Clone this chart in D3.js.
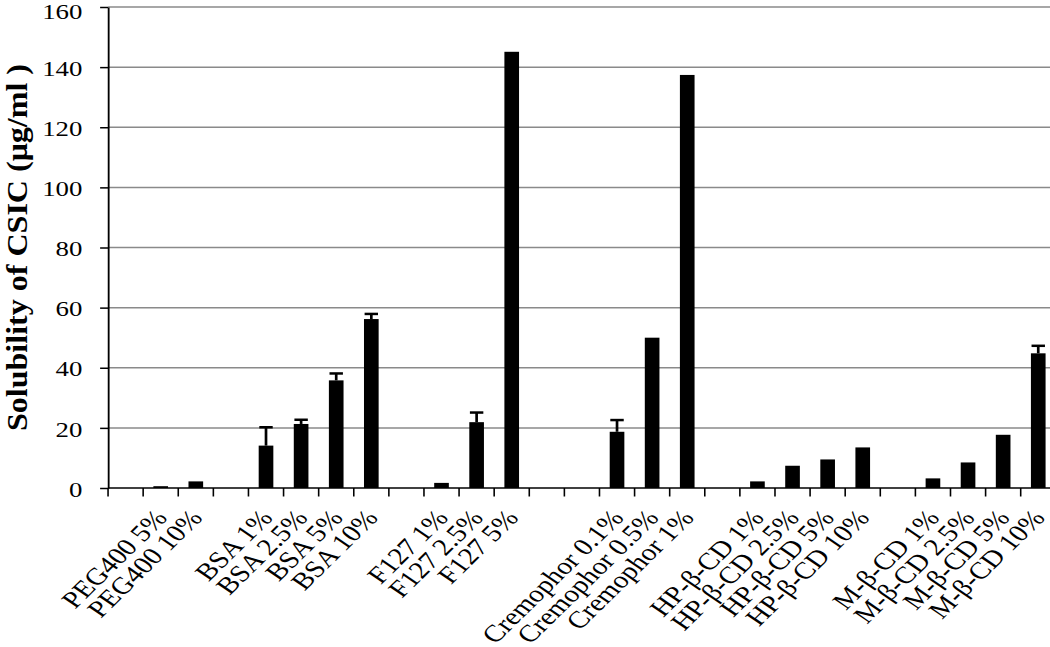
<!DOCTYPE html>
<html><head><meta charset="utf-8">
<script src="https://cdn.jsdelivr.net/npm/d3@7"></script>
<style>body{margin:0;background:#fff;overflow:hidden}svg{display:block}</style>
</head><body>
<script>
const categories = ["", "PEG400 5%", "PEG400 10%", "", "BSA 1%", "BSA 2.5%", "BSA 5%", "BSA 10%", "", "F127 1%", "F127 2.5%", "F127 5%", "", "", "Cremophor 0.1%", "Cremophor 0.5%", "Cremophor 1%", "", "HP-β-CD 1%", "HP-β-CD 2.5%", "HP-β-CD 5%", "HP-β-CD 10%", "", "M-β-CD 1%", "M-β-CD 2.5%", "M-β-CD 5%", "M-β-CD 10%"];
const values = [null, 0.6, 2.2, null, 14.1, 21.3, 35.8, 56.2, null, 1.7, 21.9, 145.1, null, null, 18.7, 50.0, 137.4, null, 2.2, 7.4, 9.5, 13.5, null, 3.2, 8.5, 17.7, 44.8];
const errors = [null, 0, 0, null, 6.1, 1.4, 2.3, 1.7, null, 0, 3.2, 0, null, null, 3.9, 0, 0, null, 0, 0, 0, 0, null, 0, 0, 0, 2.5];
const yTicks = [0, 20, 40, 60, 80, 100, 120, 140, 160];
const yTitle = "Solubility of CSIC (μg/ml )";

const W = 1050, H = 647, VBW = 860;
const mLeft = 88.5, mTop = 7, mBottom = 488, band = 28.75;

const svg = d3.select("body").append("svg")
  .attr("width", W).attr("height", H)
  .attr("viewBox", `0 0 ${VBW} ${H}`)
  .attr("preserveAspectRatio", "none");

const idx = d3.range(categories.length);
const x = d3.scaleBand().domain(idx).range([mLeft, mLeft + band * categories.length]).padding(0);
const y = d3.scaleLinear().domain([0, 160]).range([mBottom, mTop]);

// gridlines
svg.append("g").selectAll("line").data(yTicks.filter(d => d > 0)).join("line")
  .attr("x1", mLeft).attr("x2", VBW + 10)
  .attr("y1", d => y(d)).attr("y2", d => y(d))
  .attr("stroke", "#8a8a8a").attr("stroke-width", 1.5);

// y axis
const yAxis = svg.append("g").attr("transform", `translate(${mLeft},0)`)
  .call(d3.axisLeft(y).tickValues(yTicks).tickSize(6.5).tickSizeOuter(0).tickPadding(14.5));
yAxis.select(".domain").attr("stroke", "#000").attr("stroke-width", 1.5);
yAxis.selectAll(".tick line").attr("stroke", "#000").attr("stroke-width", 1.5);
yAxis.selectAll(".tick text").attr("font-family", "Liberation Serif, Times New Roman, serif")
  .attr("font-size", 22).attr("fill", "#000")
  .attr("dy", d => d === d3.max(yTicks) ? "0.5em" : "0.37em");

// x axis line and boundary ticks
svg.append("line").attr("x1", mLeft).attr("x2", VBW + 10).attr("y1", mBottom).attr("y2", mBottom)
  .attr("stroke", "#000").attr("stroke-width", 1.5);
svg.append("g").selectAll("line").data(idx).join("line")
  .attr("x1", d => x(d)).attr("x2", d => x(d))
  .attr("y1", mBottom).attr("y2", mBottom + 8.5)
  .attr("stroke", "#000").attr("stroke-width", 1.3);

// bars
const barW = 12;
const data = idx.map(i => ({i, v: values[i], e: errors[i], c: categories[i]}));
svg.append("g").selectAll("rect").data(data.filter(d => d.v != null)).join("rect")
  .attr("x", d => x(d.i) + (x.bandwidth() - barW) / 2)
  .attr("width", barW)
  .attr("y", d => y(d.v))
  .attr("height", d => y(0) - y(d.v))
  .attr("fill", "#000");

// error bars (upper only)
const eb = svg.append("g").selectAll("g").data(data.filter(d => d.v != null && d.e > 0)).join("g");
eb.append("line")
  .attr("x1", d => x(d.i) + x.bandwidth() / 2).attr("x2", d => x(d.i) + x.bandwidth() / 2)
  .attr("y1", d => y(d.v)).attr("y2", d => y(d.v + d.e))
  .attr("stroke", "#000").attr("stroke-width", 2.2);
eb.append("line")
  .attr("x1", d => x(d.i) + x.bandwidth() / 2 - 5.5).attr("x2", d => x(d.i) + x.bandwidth() / 2 + 5.5)
  .attr("y1", d => y(d.v + d.e)).attr("y2", d => y(d.v + d.e))
  .attr("stroke", "#000").attr("stroke-width", 2.5);

// x labels
svg.append("g").selectAll("text").data(data.filter(d => d.c !== "")).join("text")
  .attr("transform", d => `translate(${x(d.i) + x.bandwidth() / 2},513) rotate(-50)`)
  .attr("text-anchor", "end").attr("dy", "0.35em")
  .attr("font-family", "Liberation Serif, Times New Roman, serif")
  .attr("font-size", 24).attr("fill", "#000")
  .text(d => d.c);

// y title
svg.append("text")
  .attr("transform", `translate(22.5,${(mTop + mBottom) / 2}) rotate(-90)`)
  .attr("text-anchor", "middle")
  .attr("font-family", "Liberation Serif, Times New Roman, serif")
  .attr("font-weight", "bold").attr("font-size", 24)
  .attr("textLength", 367).attr("lengthAdjust", "spacingAndGlyphs")
  .attr("fill", "#000")
  .text(yTitle);
</script>
</body></html>
